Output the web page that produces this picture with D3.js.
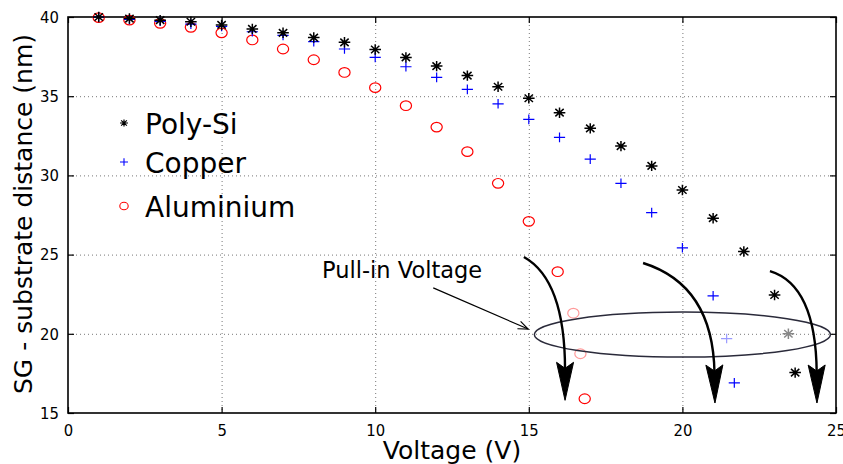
<!DOCTYPE html>
<html><head><meta charset="utf-8">
<script src="https://cdn.jsdelivr.net/npm/d3@7"></script>
<style>html,body{margin:0;padding:0;background:#fff;}svg{display:block;}</style>
</head><body>
<script>
// ---- data ----
const polyX = [1,2,3,4,5,6,7,8,9,10,11,12,13,14,15,16,17,18,19,20,21,22,23,23.45,23.67];
const polyY = [40,39.9,39.8,39.7,39.5,39.25,39.0,38.7,38.4,37.95,37.45,36.9,36.3,35.6,34.87,33.96,32.97,31.85,30.6,29.08,27.3,25.2,22.45,20.0,17.55];
const copperX = [1,2,3,4,5,6,7,8,9,10,11,12,13,14,15,16,17,18,19,20,21,21.44,21.69];
const copperY = [40,39.85,39.73,39.55,39.4,39.07,38.84,38.44,37.98,37.45,36.86,36.19,35.43,34.52,33.54,32.4,31.03,29.5,27.65,25.43,22.4,19.7,16.9];
const aluX = [1,2,3,4,5,6,7,8,9,10,11,12,13,14,15,15.94,16.45,16.68,16.82];
const aluY = [39.96,39.8,39.6,39.35,39.0,38.55,37.98,37.3,36.5,35.54,34.4,33.05,31.5,29.5,27.1,23.92,21.3,18.74,15.9];
// points seen faded behind the ellipse (x values)
const fadedPoly = [23.45], fadedCopper = [21.44], fadedAlu = [16.45, 16.68];
const xTicks = [0,5,10,15,20,25];
const yTicks = [15,20,25,30,35,40];
const seriesNames = ["Poly-Si","Copper","Aluminium"];
// annotation geometry in data units
const ellipse = {cx: 20, cy: 19.95, rx: 4.82, ry: 1.42};
const curvedArrows = [
  {p0:[14.84,24.85], c:[16.18,23.4], p1:[16.18,15.8]},
  {p0:[18.72,24.47], c:[21.0,23.08], p1:[21.06,15.63]},
  {p0:[22.85,23.96], c:[24.35,23.08], p1:[24.38,15.63]}
];
const pullText = {x: 8.27, y: 23.55, label: "Pull-in Voltage"};
const pullArrow = {from:[11.89,22.9], to:[14.98,20.3]};

// ---- layout ----
const W = 843, H = 464;
const L = 68, R = 836, T = 17, B = 413;
const x = d3.scaleLinear().domain([0,25]).range([L,R]);
const y = d3.scaleLinear().domain([15,40]).range([B,T]);

const svg = d3.select("body").append("svg").attr("width",W).attr("height",H);

// grid
const grid = svg.append("g").attr("stroke","#777").attr("stroke-width",1).attr("stroke-dasharray","1,3");
grid.selectAll("line.gx").data(xTicks.slice(1,-1)).enter().append("line")
  .attr("x1",d=>x(d)+0.5).attr("x2",d=>x(d)+0.5).attr("y1",T).attr("y2",B);
grid.selectAll("line.gy").data(yTicks.slice(1,-1)).enter().append("line")
  .attr("y1",d=>y(d)+0.5).attr("y2",d=>y(d)+0.5).attr("x1",L).attr("x2",R);

// axes (ticks inward, mirrored)
const tickFont = "'DejaVu Sans Condensed','DejaVu Sans',sans-serif";
const gx = svg.append("g").attr("transform",`translate(0,${B})`)
  .call(d3.axisBottom(x).tickValues(xTicks).tickSize(-6).tickPadding(11).tickFormat(d3.format("d")));
const gy = svg.append("g").attr("transform",`translate(${L},0)`)
  .call(d3.axisLeft(y).tickValues(yTicks).tickSize(-6).tickPadding(9).tickFormat(d3.format("d")));
const gxt = svg.append("g").attr("transform",`translate(0,${T})`)
  .call(d3.axisTop(x).tickValues(xTicks).tickSize(-6).tickFormat(""));
const gyr = svg.append("g").attr("transform",`translate(${R},0)`)
  .call(d3.axisRight(y).tickValues(yTicks).tickSize(-6).tickFormat(""));
[gx,gy,gxt,gyr].forEach(g=>{
  g.select(".domain").remove();
  g.selectAll(".tick line").attr("stroke","#000").attr("stroke-width",1.2);
  g.selectAll("text").attr("font-family",tickFont).attr("font-size",16.5).attr("fill","#000");
});
svg.append("rect").attr("x",L).attr("y",T).attr("width",R-L).attr("height",B-T)
  .attr("fill","none").attr("stroke","#000").attr("stroke-width",1.6);

// axis labels
const labFont = "'DejaVu Sans',sans-serif";
svg.append("text").attr("x",(L+R)/2).attr("y",459).attr("text-anchor","middle")
  .attr("font-family",labFont).attr("font-size",25).text("Voltage (V)");
svg.append("text").attr("transform",`translate(32,${(T+B)/2-1}) rotate(-90)`).attr("text-anchor","middle")
  .attr("font-family",labFont).attr("font-size",25).text("SG - substrate distance (nm)");

// markers
function starPath(s){ // 8-arm asterisk
  const a=s, b=s*0.72;
  return `M${-a},0L${a},0M0,${-a*0.9}L0,${a*0.9}M${-b},${-b*0.9}L${b},${b*0.9}M${-b},${b*0.9}L${b},${-b*0.9}`;
}
function plusPath(w,h){ return `M${-w},0L${w},0M0,${-h}L0,${h}`; }

const pts = svg.append("g");
const poly = polyX.map((v,i)=>({x:v,y:polyY[i],f:fadedPoly.includes(v)}));
const cu = copperX.map((v,i)=>({x:v,y:copperY[i],f:fadedCopper.includes(v)}));
const al = aluX.map((v,i)=>({x:v,y:aluY[i],f:fadedAlu.includes(v)}));

pts.selectAll("ellipse.al").data(al).enter().append("ellipse")
  .attr("cx",d=>x(d.x)).attr("cy",d=>y(d.y)).attr("rx",5.6).attr("ry",4.8)
  .attr("fill","none").attr("stroke",d=>d.f?"#ff9a9a":"#ff0000").attr("stroke-width",1.2);
pts.selectAll("path.cu").data(cu).enter().append("path")
  .attr("transform",d=>`translate(${x(d.x)},${y(d.y)})`).attr("d",plusPath(5.6,4.8))
  .attr("stroke",d=>d.f?"#9a9aff":"#0000ff").attr("stroke-width",1.2).attr("fill","none");
pts.selectAll("path.po").data(poly).enter().append("path")
  .attr("transform",d=>`translate(${x(d.x)},${y(d.y)})`).attr("d",starPath(5.8))
  .attr("stroke",d=>d.f?"#888":"#000").attr("stroke-width",1.5).attr("fill","none");

// legend
const legY = [123,162,206];
const leg = svg.append("g");
seriesNames.forEach((n,i)=>{
  const cx=124, cy=legY[i];
  if(i===0) leg.append("path").attr("transform",`translate(${cx},${cy})`).attr("d",starPath(4)).attr("stroke","#000").attr("stroke-width",1.2);
  if(i===1) leg.append("path").attr("transform",`translate(${cx},${cy})`).attr("d",plusPath(4,3.8)).attr("stroke","#0000ff").attr("stroke-width",1.1);
  if(i===2) leg.append("ellipse").attr("cx",cx).attr("cy",cy).attr("rx",4.2).attr("ry",3.8).attr("fill","none").attr("stroke","#ff0000").attr("stroke-width",1.1);
  leg.append("text").attr("x",145).attr("y",cy+10.5).attr("font-family",labFont).attr("font-size",28).text(n);
});

// ellipse
svg.append("ellipse").attr("cx",x(ellipse.cx)).attr("cy",y(ellipse.cy))
  .attr("rx",x(ellipse.cx+ellipse.rx)-x(ellipse.cx)).attr("ry",y(ellipse.cy-ellipse.ry)-y(ellipse.cy))
  .attr("fill","none").attr("stroke","#2a2a3a").attr("stroke-width",1.5);

// curved arrows
const ann = svg.append("g");
curvedArrows.forEach(a=>{
  const P0=[x(a.p0[0]),y(a.p0[1])], C=[x(a.c[0]),y(a.c[1])], P1=[x(a.p1[0]),y(a.p1[1])];
  const dx=P1[0]-C[0], dy=P1[1]-C[1], len=Math.hypot(dx,dy);
  const ux=dx/len, uy=dy/len, nx=-uy, ny=ux;
  const hl=38, hw=8.5, notch=6;
  const base=[P1[0]-ux*hl, P1[1]-uy*hl];
  const lineEnd=[P1[0]-ux*(hl-notch-2), P1[1]-uy*(hl-notch-2)];
  ann.append("path").attr("d",`M${P0[0]},${P0[1]}Q${C[0]},${C[1]} ${lineEnd[0]},${lineEnd[1]}`)
    .attr("fill","none").attr("stroke","#000").attr("stroke-width",2.4);
  const n=[P1[0]-ux*(hl-notch), P1[1]-uy*(hl-notch)];
  ann.append("path").attr("d",`M${P1[0]},${P1[1]}L${base[0]+nx*hw},${base[1]+ny*hw}L${n[0]},${n[1]}L${base[0]-nx*hw},${base[1]-ny*hw}Z`)
    .attr("fill","#000").attr("stroke","#000").attr("stroke-width",1);
});

// pull-in annotation
ann.append("text").attr("x",x(pullText.x)).attr("y",y(pullText.y)).attr("font-family",labFont)
  .attr("font-size",22.5).text(pullText.label);
{
  const A=[x(pullArrow.from[0]),y(pullArrow.from[1])], Bp=[x(pullArrow.to[0]),y(pullArrow.to[1])];
  const dx=Bp[0]-A[0], dy=Bp[1]-A[1], len=Math.hypot(dx,dy), ux=dx/len, uy=dy/len, nx=-uy, ny=ux;
  ann.append("line").attr("x1",A[0]).attr("y1",A[1]).attr("x2",Bp[0]).attr("y2",Bp[1]).attr("stroke","#000").attr("stroke-width",1.2);
  const hl=10, hw=4;
  ann.append("path").attr("d",`M${Bp[0]-ux*hl+nx*hw},${Bp[1]-uy*hl+ny*hw}L${Bp[0]},${Bp[1]}L${Bp[0]-ux*hl-nx*hw},${Bp[1]-uy*hl-ny*hw}`)
    .attr("fill","none").attr("stroke","#000").attr("stroke-width",1.2);
}
</script>
</body></html>
